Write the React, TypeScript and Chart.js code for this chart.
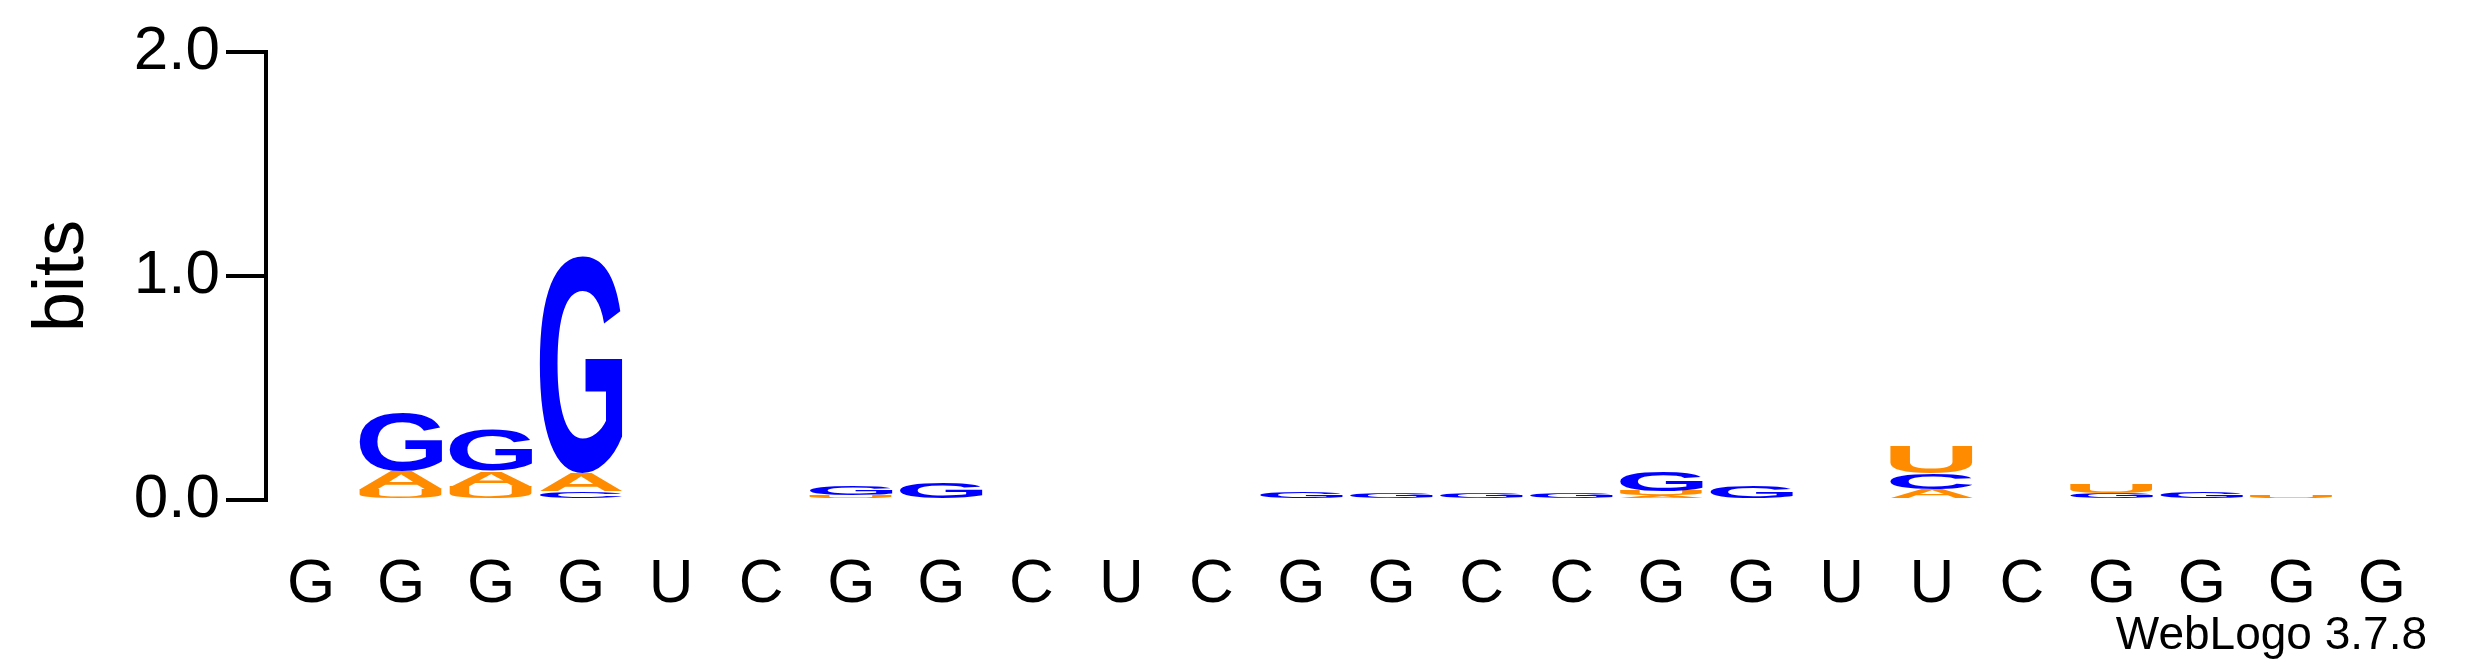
import { useEffect, useRef } from "react"
import { Chart, registerables } from "chart.js"

Chart.register(...registerables)

const positions = ["G", "G", "G", "G", "U", "C", "G", "G", "C", "U", "C", "G", "G", "C", "C", "G", "G", "U", "U", "C", "G", "G", "G", "G"]
const bitsU = [0, 0.04, 0.05, 0, 0, 0, 0.01, 0.01, 0, 0, 0, 0.01, 0, 0, 0, 0.02, 0, 0, 0.12, 0, 0.04, 0.01, 0.01, 0.01]
const bitsC = [0, 0.01, 0.01, 0.04, 0, 0, 0, 0, 0, 0, 0, 0, 0, 0, 0, 0, 0.01, 0, 0.07, 0, 0, 0, 0, 0]
const bitsA = [0, 0.08, 0.07, 0.08, 0, 0, 0.01, 0, 0, 0, 0, 0, 0, 0, 0, 0.02, 0, 0, 0.05, 0, 0, 0, 0, 0]
const bitsG = [0.01, 0.26, 0.18, 0.97, 0, 0, 0.04, 0.07, 0, 0, 0, 0.03, 0.03, 0.03, 0.03, 0.09, 0.05, 0, 0, 0, 0.03, 0.03, 0.01, 0]

const ORANGE = "#ff8c00"
const BLUE = "#0000ff"
const FONT = "Liberation Sans"
const letterColors: Record<string, string> = { A: ORANGE, U: ORANGE, C: BLUE, G: BLUE }

// per column, letters sorted smallest at bottom
const letterSets: Record<string, number[]> = { A: bitsA, C: bitsC, G: bitsG, U: bitsU }
const ranked = positions.map((_, i) =>
  Object.keys(letterSets).map((l) => ({ l, v: letterSets[l][i] })).sort((a, b) => a.v - b.v)
)

const letterPlugin = {
  id: "letters",
  afterDatasetsDraw(chart: any) {
    const ctx = chart.ctx
    chart.data.datasets.forEach((ds: any, di: number) => {
      const meta = chart.getDatasetMeta(di)
      meta.data.forEach((bar: any, i: number) => {
        const { x, y, base, width } = bar.getProps(["x", "y", "base", "width"], true)
        const h = base - y
        if (h < 0.5) return
        const letter = ds.letters[i]
        ctx.save()
        ctx.font = `bold 100px "${FONT}"`
        const m = ctx.measureText(letter)
        const tw = m.actualBoundingBoxRight + m.actualBoundingBoxLeft
        const th = m.actualBoundingBoxAscent + m.actualBoundingBoxDescent
        ctx.translate(x - width / 2, base)
        ctx.scale(width / tw, h / th)
        ctx.fillStyle = letterColors[letter]
        ctx.fillText(letter, m.actualBoundingBoxLeft, -m.actualBoundingBoxDescent)
        ctx.restore()
      })
    })
    ctx.save()
    ctx.fillStyle = "#000"
    ctx.font = `46px "${FONT}"`
    ctx.textAlign = "right"
    ctx.textBaseline = "middle"
    ctx.fillText("WebLogo 3.7.8", chart.chartArea.right, 636)
    ctx.restore()
  },
}

export default function App() {
  const ref = useRef<HTMLCanvasElement>(null)
  useEffect(() => {
    document.body.style.margin = "0"
    if (!ref.current) return
    const datasets = [0, 1, 2, 3].map((r) => ({
      label: "rank" + r,
      data: ranked.map((c) => c[r].v),
      letters: ranked.map((c) => c[r].l),
      backgroundColor: "transparent", borderWidth: 0,
      barPercentage: 1, categoryPercentage: 0.92,
    }))
    const chart = new Chart(ref.current, {
      type: "bar",
      data: { labels: positions, datasets: datasets as any },
      plugins: [letterPlugin],
      options: {
        animation: false,
        responsive: false,
        layout: { padding: { top: 52, right: 48 } },
        plugins: { legend: { display: false }, tooltip: { enabled: false } },
        scales: {
          x: {
            stacked: true,
            grid: { display: false },
            border: { display: false },
            ticks: { color: "#000", font: { family: FONT, size: 62 }, padding: 40, maxRotation: 0, autoSkip: false },
            afterFit: (s: any) => { s.height = 167 },
          },
          y: {
            stacked: true,
            min: 0,
            max: 2,
            border: { display: true, color: "#000", width: 4 },
            grid: { drawOnChartArea: false, drawTicks: true, tickLength: 40, color: "#000", lineWidth: 4 },
            ticks: { stepSize: 1, color: "#000", font: { family: FONT, size: 62 }, padding: 6, callback: (v: any) => Number(v).toFixed(1) },
            title: { display: true, text: "bits", color: "#000", font: { family: FONT, size: 72 }, padding: 20 },
            afterFit: (s: any) => { s.width = 266 },
          },
        },
      },
    })
    return () => chart.destroy()
  }, [])
  return <canvas ref={ref} width={2475} height={667} style={{ display: "block" }} />
}
